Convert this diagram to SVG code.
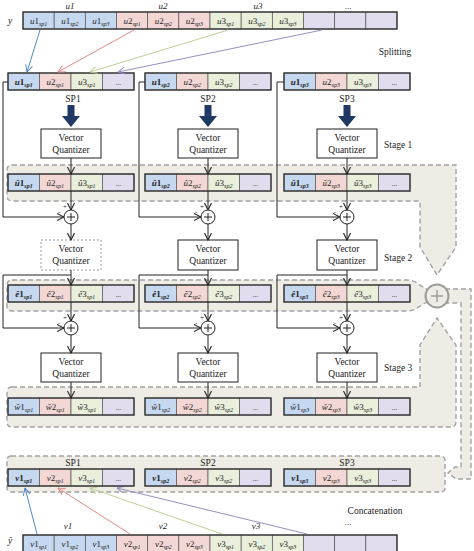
<svg xmlns="http://www.w3.org/2000/svg" width="474" height="551" viewBox="0 0 474 551">
<style>
text{font-family:"Liberation Serif","Times New Roman",serif;fill:#222}
.c{font-size:9px;text-anchor:middle}
.e{font-size:7px}
.s{font-size:6px;font-style:italic}
.i{font-style:italic}
.b{font-weight:bold}
.cb{fill:#c6d8ef}.cp{fill:#f3d7d5}.cg{fill:#e9efdb}.cl{fill:#e1ddef}
.cell{stroke:#555;stroke-width:0.7}
.out{fill:none;stroke:#333;stroke-width:1.3}
.reg{fill:#eeece5;stroke:#a3a3a3;stroke-width:1.4;stroke-dasharray:5 3}
.ln{fill:none;stroke:#222;stroke-width:1}
.vq{fill:#fff;stroke:#333;stroke-width:1.1}
.vqd{fill:#fff;stroke:#999;stroke-width:1;stroke-dasharray:2 2}
.t{font-size:9.5px;text-anchor:middle}
.lab{font-size:9.5px}
.add{fill:#fff;stroke:#222;stroke-width:1}
.sg{font-size:7px}
.thick{fill:#1f3864}
</style>
<defs>
<marker id="ah" viewBox="0 0 8 8" refX="7.5" refY="4" markerWidth="8" markerHeight="8" markerUnits="userSpaceOnUse" orient="auto"><path d="M0.5,0.5 L7.5,4 L0.5,7.5" fill="none" stroke="#222" stroke-width="1.1"/></marker>
<marker id="ab" viewBox="0 0 8 8" refX="7.5" refY="4" markerWidth="8" markerHeight="8" markerUnits="userSpaceOnUse" orient="auto"><path d="M0.5,0.5 L7.5,4 L0.5,7.5" fill="none" stroke="#4f87cf" stroke-width="1"/></marker>
<marker id="ap" viewBox="0 0 8 8" refX="7.5" refY="4" markerWidth="8" markerHeight="8" markerUnits="userSpaceOnUse" orient="auto"><path d="M0.5,0.5 L7.5,4 L0.5,7.5" fill="none" stroke="#e58a86" stroke-width="1"/></marker>
<marker id="ag" viewBox="0 0 8 8" refX="7.5" refY="4" markerWidth="8" markerHeight="8" markerUnits="userSpaceOnUse" orient="auto"><path d="M0.5,0.5 L7.5,4 L0.5,7.5" fill="none" stroke="#bcd193" stroke-width="1"/></marker>
<marker id="av" viewBox="0 0 8 8" refX="7.5" refY="4" markerWidth="8" markerHeight="8" markerUnits="userSpaceOnUse" orient="auto"><path d="M0.5,0.5 L7.5,4 L0.5,7.5" fill="none" stroke="#948fc4" stroke-width="1"/></marker>
<g id="r4">
<rect class="cell cb" x="0" y="0" width="31.5" height="17"/>
<rect class="cell cp" x="31.5" y="0" width="31.5" height="17"/>
<rect class="cell cg" x="63" y="0" width="31.5" height="17"/>
<rect class="cell cl" x="94.5" y="0" width="31.5" height="17"/>
<rect class="out" x="0" y="0" width="126" height="17"/>
</g>
<g id="r12">
<rect class="cell cb" x="0" y="0" width="31.17" height="17"/>
<rect class="cell cb" x="31.17" y="0" width="31.17" height="17"/>
<rect class="cell cb" x="62.33" y="0" width="31.17" height="17"/>
<rect class="cell cp" x="93.5" y="0" width="31.17" height="17"/>
<rect class="cell cp" x="124.67" y="0" width="31.17" height="17"/>
<rect class="cell cp" x="155.83" y="0" width="31.17" height="17"/>
<rect class="cell cg" x="187" y="0" width="31.17" height="17"/>
<rect class="cell cg" x="218.17" y="0" width="31.17" height="17"/>
<rect class="cell cg" x="249.33" y="0" width="31.17" height="17"/>
<rect class="cell cl" x="280.5" y="0" width="31.17" height="17"/>
<rect class="cell cl" x="311.67" y="0" width="31.17" height="17"/>
<rect class="cell cl" x="342.83" y="0" width="31.17" height="17"/>
<rect class="out" x="0" y="0" width="374" height="17"/>
</g>
<g id="adder"><circle class="add" cx="0" cy="0" r="7"/><path class="ln" d="M-4,0H4M0,-4V4"/></g>
<path id="thick" class="thick" d="M-3.5,0H3.5V11H9L0,22L-9,11H-3.5Z"/>
</defs>

<!-- background regions -->
<g id="regions">
<path id="stage1-region" class="reg" d="M12,165H456V247L437,275L420,247V201H12Q7,201 7,196V170Q7,165 12,165Z"/>
<path id="stage2-region" class="reg" d="M12,280H407Q413,280 417,283L437,296L417,308Q413,311 407,311H12Q7,311 7,306V285Q7,280 12,280Z"/>
<path id="stage3-region" class="reg" d="M12,387H420V345L437,318L456,345V422Q456,427 451,427H12Q7,427 7,422V392Q7,387 12,387Z"/>
<path id="sum-pipe" class="reg" d="M437,289H471V479H456L448,473L455,467H461V303H437Z"/>
<rect id="concat-region" class="reg" x="7" y="456" width="438" height="36" rx="4"/>
<g id="sum-node"><circle cx="437" cy="296" r="11.5" fill="#eeece5" stroke="#9b9b9b" stroke-width="2"/><path d="M431,296H443M437,290V302" stroke="#9b9b9b" stroke-width="1.4"/></g>
</g>

<!-- top row y -->
<g id="y-row">
<text class="lab i" x="8" y="24">y</text>
<text class="c i" x="70" y="9">u1</text>
<text class="c i" x="163" y="9">u2</text>
<text class="c i" x="258" y="9">u3</text>
<text class="c" x="348" y="9">...</text>
<use href="#r12" x="23" y="12"/>
<text class="c" x="38.6" y="24"><tspan class="i">u</tspan>1<tspan class="s" dy="2">sp1</tspan></text>
<text class="c" x="69.8" y="24"><tspan class="i">u</tspan>1<tspan class="s" dy="2">sp2</tspan></text>
<text class="c" x="100.9" y="24"><tspan class="i">u</tspan>1<tspan class="s" dy="2">sp3</tspan></text>
<text class="c" x="132.1" y="24"><tspan class="i">u</tspan>2<tspan class="s" dy="2">sp1</tspan></text>
<text class="c" x="163.3" y="24"><tspan class="i">u</tspan>2<tspan class="s" dy="2">sp2</tspan></text>
<text class="c" x="194.4" y="24"><tspan class="i">u</tspan>2<tspan class="s" dy="2">sp3</tspan></text>
<text class="c" x="225.6" y="24"><tspan class="i">u</tspan>3<tspan class="s" dy="2">sp1</tspan></text>
<text class="c" x="256.8" y="24"><tspan class="i">u</tspan>3<tspan class="s" dy="2">sp2</tspan></text>
<text class="c" x="287.9" y="24"><tspan class="i">u</tspan>3<tspan class="s" dy="2">sp3</tspan></text>
</g>
<text class="t" x="395" y="55" font-size="9">Splitting</text>

<!-- SP rows -->
<g id="sp1-row">
<use href="#r4" x="8" y="73"/>
<text class="c b" x="23.75" y="85"><tspan class="i">u</tspan>1<tspan class="s" dy="2">sp1</tspan></text>
<text class="c" x="55.25" y="85"><tspan class="i">u</tspan>2<tspan class="s" dy="2">sp1</tspan></text>
<text class="c" x="86.75" y="85"><tspan class="i">u</tspan>3<tspan class="s" dy="2">sp1</tspan></text>
<text class="c e" x="118.25" y="85">...</text>
<text class="t" x="73" y="102">SP1</text>
</g>
<g id="sp2-row">
<use href="#r4" x="145" y="73"/>
<text class="c b" x="160.75" y="85"><tspan class="i">u</tspan>1<tspan class="s" dy="2">sp2</tspan></text>
<text class="c" x="192.25" y="85"><tspan class="i">u</tspan>2<tspan class="s" dy="2">sp2</tspan></text>
<text class="c" x="223.75" y="85"><tspan class="i">u</tspan>3<tspan class="s" dy="2">sp2</tspan></text>
<text class="c e" x="255.25" y="85">...</text>
<text class="t" x="208" y="102">SP2</text>
</g>
<g id="sp3-row">
<use href="#r4" x="284" y="73"/>
<text class="c b" x="299.75" y="85"><tspan class="i">u</tspan>1<tspan class="s" dy="2">sp3</tspan></text>
<text class="c" x="331.25" y="85"><tspan class="i">u</tspan>2<tspan class="s" dy="2">sp3</tspan></text>
<text class="c" x="362.75" y="85"><tspan class="i">u</tspan>3<tspan class="s" dy="2">sp3</tspan></text>
<text class="c e" x="394.25" y="85">...</text>
<text class="t" x="347" y="102">SP3</text>
</g>

<!-- thick arrows -->
<g id="sp-arrows">
<use href="#thick" x="71" y="105"/>
<use href="#thick" x="208" y="105"/>
<use href="#thick" x="347" y="105"/>
</g>

<!-- stage 1 rows -->
<g id="s1-row1">
<use href="#r4" x="8" y="174"/>
<text class="c b" x="23.75" y="186"><tspan class="i">û</tspan>1<tspan class="s" dy="2">sp1</tspan></text>
<text class="c" x="55.25" y="186"><tspan class="i">û</tspan>2<tspan class="s" dy="2">sp1</tspan></text>
<text class="c" x="86.75" y="186"><tspan class="i">û</tspan>3<tspan class="s" dy="2">sp1</tspan></text>
<text class="c e" x="118.25" y="186">...</text>
</g>
<g id="s1-row2">
<use href="#r4" x="145" y="174"/>
<text class="c b" x="160.75" y="186"><tspan class="i">û</tspan>1<tspan class="s" dy="2">sp2</tspan></text>
<text class="c" x="192.25" y="186"><tspan class="i">û</tspan>2<tspan class="s" dy="2">sp2</tspan></text>
<text class="c" x="223.75" y="186"><tspan class="i">û</tspan>3<tspan class="s" dy="2">sp2</tspan></text>
<text class="c e" x="255.25" y="186">...</text>
</g>
<g id="s1-row3">
<use href="#r4" x="284" y="174"/>
<text class="c b" x="299.75" y="186"><tspan class="i">û</tspan>1<tspan class="s" dy="2">sp3</tspan></text>
<text class="c" x="331.25" y="186"><tspan class="i">û</tspan>2<tspan class="s" dy="2">sp3</tspan></text>
<text class="c" x="362.75" y="186"><tspan class="i">û</tspan>3<tspan class="s" dy="2">sp3</tspan></text>
<text class="c e" x="394.25" y="186">...</text>
</g>

<!-- stage 2 rows -->
<g id="s2-row1">
<use href="#r4" x="8" y="285"/>
<text class="c b" x="23.75" y="297"><tspan class="i">ê</tspan>1<tspan class="s" dy="2">sp1</tspan></text>
<text class="c" x="55.25" y="297"><tspan class="i">ê</tspan>2<tspan class="s" dy="2">sp1</tspan></text>
<text class="c" x="86.75" y="297"><tspan class="i">ê</tspan>3<tspan class="s" dy="2">sp1</tspan></text>
<text class="c e" x="118.25" y="297">...</text>
</g>
<g id="s2-row2">
<use href="#r4" x="145" y="285"/>
<text class="c b" x="160.75" y="297"><tspan class="i">ê</tspan>1<tspan class="s" dy="2">sp2</tspan></text>
<text class="c" x="192.25" y="297"><tspan class="i">ê</tspan>2<tspan class="s" dy="2">sp2</tspan></text>
<text class="c" x="223.75" y="297"><tspan class="i">ê</tspan>3<tspan class="s" dy="2">sp2</tspan></text>
<text class="c e" x="255.25" y="297">...</text>
</g>
<g id="s2-row3">
<use href="#r4" x="284" y="285"/>
<text class="c b" x="299.75" y="297"><tspan class="i">ê</tspan>1<tspan class="s" dy="2">sp3</tspan></text>
<text class="c" x="331.25" y="297"><tspan class="i">ê</tspan>2<tspan class="s" dy="2">sp3</tspan></text>
<text class="c" x="362.75" y="297"><tspan class="i">ê</tspan>3<tspan class="s" dy="2">sp3</tspan></text>
<text class="c e" x="394.25" y="297">...</text>
</g>

<!-- stage 3 rows -->
<g id="s3-row1">
<use href="#r4" x="8" y="398"/>
<text class="c" x="23.75" y="410"><tspan class="i">ŵ</tspan>1<tspan class="s" dy="2">sp1</tspan></text>
<text class="c" x="55.25" y="410"><tspan class="i">ŵ</tspan>2<tspan class="s" dy="2">sp1</tspan></text>
<text class="c" x="86.75" y="410"><tspan class="i">ŵ</tspan>3<tspan class="s" dy="2">sp1</tspan></text>
<text class="c e" x="118.25" y="410">...</text>
</g>
<g id="s3-row2">
<use href="#r4" x="145" y="398"/>
<text class="c" x="160.75" y="410"><tspan class="i">ŵ</tspan>1<tspan class="s" dy="2">sp2</tspan></text>
<text class="c" x="192.25" y="410"><tspan class="i">ŵ</tspan>2<tspan class="s" dy="2">sp2</tspan></text>
<text class="c" x="223.75" y="410"><tspan class="i">ŵ</tspan>3<tspan class="s" dy="2">sp2</tspan></text>
<text class="c e" x="255.25" y="410">...</text>
</g>
<g id="s3-row3">
<use href="#r4" x="284" y="398"/>
<text class="c" x="299.75" y="410"><tspan class="i">ŵ</tspan>1<tspan class="s" dy="2">sp3</tspan></text>
<text class="c" x="331.25" y="410"><tspan class="i">ŵ</tspan>2<tspan class="s" dy="2">sp3</tspan></text>
<text class="c" x="362.75" y="410"><tspan class="i">ŵ</tspan>3<tspan class="s" dy="2">sp3</tspan></text>
<text class="c e" x="394.25" y="410">...</text>
</g>

<!-- vector quantizers -->
<g id="vq-s1-c1"><rect class="vq" x="41" y="129" width="60" height="29"/><text class="t" x="71" y="141">Vector</text><text class="t" x="71" y="153">Quantizer</text></g>
<g id="vq-s1-c2"><rect class="vq" x="178" y="129" width="60" height="29"/><text class="t" x="208" y="141">Vector</text><text class="t" x="208" y="153">Quantizer</text></g>
<g id="vq-s1-c3"><rect class="vq" x="317" y="129" width="60" height="29"/><text class="t" x="347" y="141">Vector</text><text class="t" x="347" y="153">Quantizer</text></g>
<g id="vq-s2-c1"><rect class="vqd" x="41" y="240" width="60" height="30"/><text class="t" x="71" y="252">Vector</text><text class="t" x="71" y="264">Quantizer</text></g>
<g id="vq-s2-c2"><rect class="vq" x="178" y="240" width="60" height="30"/><text class="t" x="208" y="252">Vector</text><text class="t" x="208" y="264">Quantizer</text></g>
<g id="vq-s2-c3"><rect class="vq" x="317" y="240" width="60" height="30"/><text class="t" x="347" y="252">Vector</text><text class="t" x="347" y="264">Quantizer</text></g>
<g id="vq-s3-c1"><rect class="vq" x="41" y="353" width="60" height="29"/><text class="t" x="71" y="365">Vector</text><text class="t" x="71" y="377">Quantizer</text></g>
<g id="vq-s3-c2"><rect class="vq" x="178" y="353" width="60" height="29"/><text class="t" x="208" y="365">Vector</text><text class="t" x="208" y="377">Quantizer</text></g>
<g id="vq-s3-c3"><rect class="vq" x="317" y="353" width="60" height="29"/><text class="t" x="347" y="365">Vector</text><text class="t" x="347" y="377">Quantizer</text></g>

<text class="lab" x="384" y="148">Stage 1</text>
<text class="lab" x="384" y="261">Stage 2</text>
<text class="lab" x="384" y="371">Stage 3</text>

<!-- connectors -->
<g id="connectors">
<path class="ln" marker-end="url(#ah)" d="M8,82H3V217H64"/>
<path class="ln" marker-end="url(#ah)" d="M71,158V174"/>
<path class="ln" marker-end="url(#ah)" d="M71,191V210"/>
<path class="ln" marker-end="url(#ah)" d="M71,224V240"/>
<path class="ln" marker-end="url(#ah)" d="M71,270V285"/>
<path class="ln" marker-end="url(#ah)" d="M71,275H3V328H64"/>
<path class="ln" marker-end="url(#ah)" d="M71,302V321"/>
<path class="ln" marker-end="url(#ah)" d="M71,335V353"/>
<path class="ln" marker-end="url(#ah)" d="M71,382V398"/>

<path class="ln" marker-end="url(#ah)" d="M145,82H139V217H201"/>
<path class="ln" marker-end="url(#ah)" d="M208,158V174"/>
<path class="ln" marker-end="url(#ah)" d="M208,191V210"/>
<path class="ln" marker-end="url(#ah)" d="M208,224V240"/>
<path class="ln" marker-end="url(#ah)" d="M208,270V285"/>
<path class="ln" marker-end="url(#ah)" d="M208,275H139V328H201"/>
<path class="ln" marker-end="url(#ah)" d="M208,302V321"/>
<path class="ln" marker-end="url(#ah)" d="M208,335V353"/>
<path class="ln" marker-end="url(#ah)" d="M208,382V398"/>

<path class="ln" marker-end="url(#ah)" d="M284,82H277V217H340"/>
<path class="ln" marker-end="url(#ah)" d="M347,158V174"/>
<path class="ln" marker-end="url(#ah)" d="M347,191V210"/>
<path class="ln" marker-end="url(#ah)" d="M347,224V240"/>
<path class="ln" marker-end="url(#ah)" d="M347,270V285"/>
<path class="ln" marker-end="url(#ah)" d="M347,275H277V328H340"/>
<path class="ln" marker-end="url(#ah)" d="M347,302V321"/>
<path class="ln" marker-end="url(#ah)" d="M347,335V353"/>
<path class="ln" marker-end="url(#ah)" d="M347,382V398"/>

<path fill="none" stroke="#4f87cf" stroke-width="1" marker-end="url(#ab)" d="M40,30L27,72"/>
<path fill="none" stroke="#e58a86" stroke-width="1" marker-end="url(#ap)" d="M134,30L58,72"/>
<path fill="none" stroke="#bcd193" stroke-width="1" marker-end="url(#ag)" d="M228,30L90,72"/>
<path fill="none" stroke="#948fc4" stroke-width="1" marker-end="url(#av)" d="M322,30L118,72"/>

<path fill="none" stroke="#4f87cf" stroke-width="1" marker-end="url(#ab)" d="M37,534L25,488"/>
<path fill="none" stroke="#e58a86" stroke-width="1" marker-end="url(#ap)" d="M130,534L58,488"/>
<path fill="none" stroke="#bcd193" stroke-width="1" marker-end="url(#ag)" d="M222,534L90,488"/>
<path fill="none" stroke="#948fc4" stroke-width="1" marker-end="url(#av)" d="M307,534L117,488"/>
</g>

<!-- adders -->
<g id="adder-s1-c1"><use href="#adder" x="71" y="217"/><text class="sg" x="63" y="209">+</text><text class="sg" x="58" y="214">-</text></g>
<g id="adder-s1-c2"><use href="#adder" x="208" y="217"/><text class="sg" x="200" y="209">+</text><text class="sg" x="195" y="214">-</text></g>
<g id="adder-s1-c3"><use href="#adder" x="347" y="217"/><text class="sg" x="339" y="209">+</text><text class="sg" x="334" y="214">-</text></g>
<g id="adder-s2-c1"><use href="#adder" x="71" y="328"/><text class="sg" x="63" y="320">+</text><text class="sg" x="58" y="325">-</text></g>
<g id="adder-s2-c2"><use href="#adder" x="208" y="328"/><text class="sg" x="200" y="320">+</text><text class="sg" x="195" y="325">-</text></g>
<g id="adder-s2-c3"><use href="#adder" x="347" y="328"/><text class="sg" x="339" y="320">+</text><text class="sg" x="334" y="325">-</text></g>

<!-- concatenation rows -->
<g id="cc-row1">
<text class="t" x="73" y="466">SP1</text>
<use href="#r4" x="8" y="469"/>
<text class="c b" x="23.75" y="481"><tspan class="i">v</tspan>1<tspan class="s" dy="2">sp1</tspan></text>
<text class="c" x="55.25" y="481"><tspan class="i">v</tspan>2<tspan class="s" dy="2">sp1</tspan></text>
<text class="c" x="86.75" y="481"><tspan class="i">v</tspan>3<tspan class="s" dy="2">sp1</tspan></text>
<text class="c e" x="118.25" y="481">...</text>
</g>
<g id="cc-row2">
<text class="t" x="208" y="466">SP2</text>
<use href="#r4" x="145" y="469"/>
<text class="c b" x="160.75" y="481"><tspan class="i">v</tspan>1<tspan class="s" dy="2">sp2</tspan></text>
<text class="c" x="192.25" y="481"><tspan class="i">v</tspan>2<tspan class="s" dy="2">sp2</tspan></text>
<text class="c" x="223.75" y="481"><tspan class="i">v</tspan>3<tspan class="s" dy="2">sp2</tspan></text>
<text class="c e" x="255.25" y="481">...</text>
</g>
<g id="cc-row3">
<text class="t" x="347" y="466">SP3</text>
<use href="#r4" x="284" y="469"/>
<text class="c b" x="299.75" y="481"><tspan class="i">v</tspan>1<tspan class="s" dy="2">sp3</tspan></text>
<text class="c" x="331.25" y="481"><tspan class="i">v</tspan>2<tspan class="s" dy="2">sp3</tspan></text>
<text class="c" x="362.75" y="481"><tspan class="i">v</tspan>3<tspan class="s" dy="2">sp3</tspan></text>
<text class="c e" x="394.25" y="481">...</text>
</g>
<text class="t" x="375" y="514" font-size="9">Concatenation</text>

<!-- bottom row y-hat -->
<g id="yhat-row">
<text class="lab i" x="8" y="544">ŷ</text>
<text class="c i" x="68" y="529">v1</text>
<text class="c i" x="163" y="529">v2</text>
<text class="c i" x="256" y="529">v3</text>
<text class="c" x="348" y="525">...</text>
<use href="#r12" x="23" y="535"/>
<text class="c" x="38.6" y="547"><tspan class="i">v</tspan>1<tspan class="s" dy="2">sp1</tspan></text>
<text class="c" x="69.8" y="547"><tspan class="i">v</tspan>1<tspan class="s" dy="2">sp2</tspan></text>
<text class="c" x="100.9" y="547"><tspan class="i">v</tspan>1<tspan class="s" dy="2">sp3</tspan></text>
<text class="c" x="132.1" y="547"><tspan class="i">v</tspan>2<tspan class="s" dy="2">sp1</tspan></text>
<text class="c" x="163.3" y="547"><tspan class="i">v</tspan>2<tspan class="s" dy="2">sp2</tspan></text>
<text class="c" x="194.4" y="547"><tspan class="i">v</tspan>2<tspan class="s" dy="2">sp3</tspan></text>
<text class="c" x="225.6" y="547"><tspan class="i">v</tspan>3<tspan class="s" dy="2">sp1</tspan></text>
<text class="c" x="256.8" y="547"><tspan class="i">v</tspan>3<tspan class="s" dy="2">sp2</tspan></text>
<text class="c" x="287.9" y="547"><tspan class="i">v</tspan>3<tspan class="s" dy="2">sp3</tspan></text>
</g>
</svg>
